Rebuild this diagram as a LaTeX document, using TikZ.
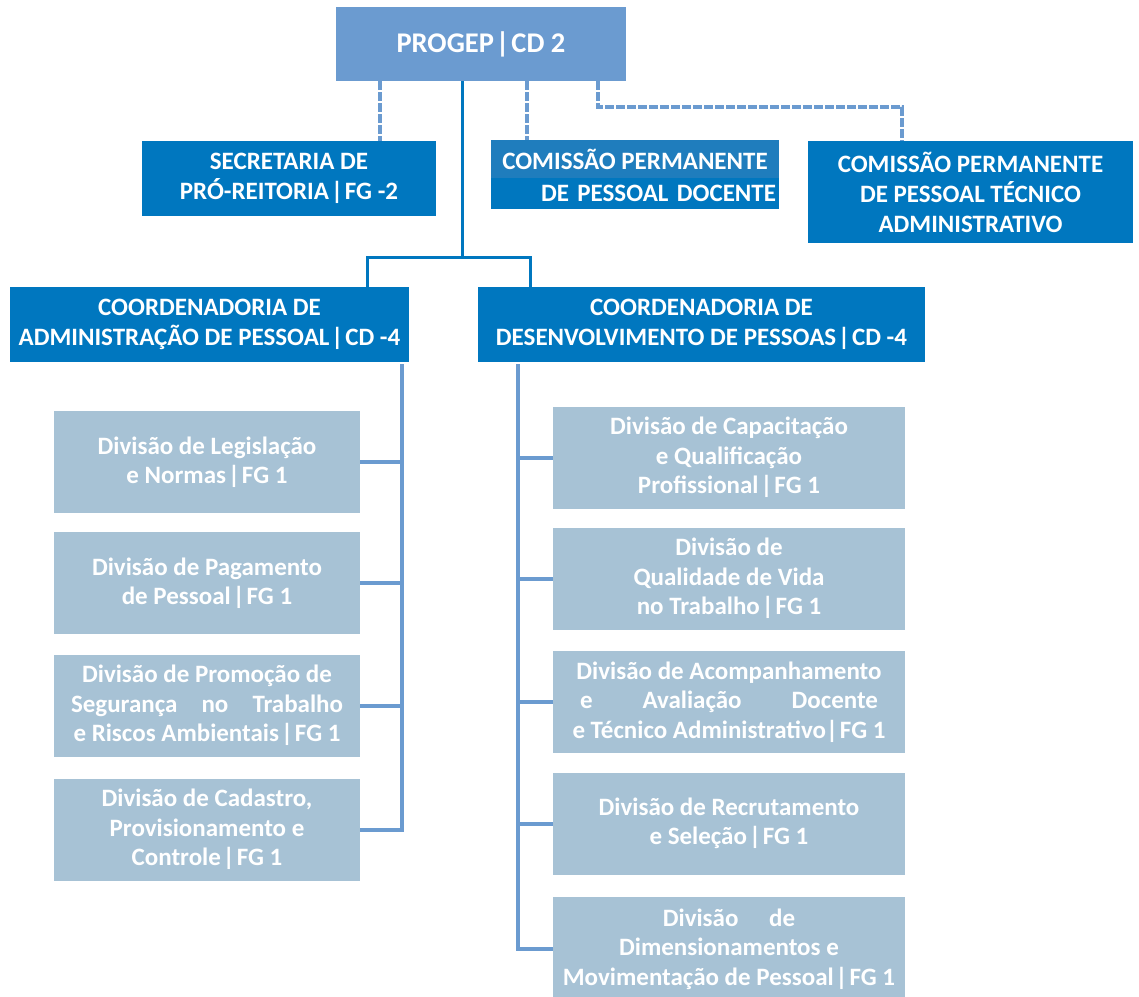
\documentclass[tikz,border=0pt]{standalone}
\usepackage{fontspec}
\setmainfont{Carlito}
\usetikzlibrary{positioning}
\definecolor{progepblue}{HTML}{6B9BD0}
\definecolor{mainblue}{HTML}{0077BF}
\definecolor{docblue}{HTML}{1F7DBD}
\definecolor{divgray}{HTML}{A7C2D5}
\newcommand{\pipesep}{\kern2pt|\kern2pt}
\tikzset{
  org_n/.style = {align=center, inner sep=0pt, text=white},
  box_top/.style = {org_n, fill=progepblue, minimum width=290pt,
    minimum height=74pt, font=\fontsize{28.5}{30}\selectfont\bfseries},
  box_main/.style = {org_n, fill=mainblue,
    font=\fontsize{25}{30}\selectfont\bfseries},
  box_div/.style = {org_n, fill=divgray,
    font=\fontsize{25}{29.5}\selectfont\bfseries},
  link_dash/.style = {draw=progepblue, line width=4pt, dash pattern=on 9pt off 2pt},
  link_main/.style = {draw=mainblue, line width=3pt},
  link_div/.style = {draw=progepblue, line width=4pt}}

\begin{document}
\begin{tikzpicture}[x=1pt, y=-1pt]
\useasboundingbox (0,0) rectangle (1139,996);

% top level
\node [box_top] (progep) at (481,44) {PROGEP\pipesep CD 2};
\node [box_main, minimum width=294pt, minimum height=75pt] (sec) at (289,178.5)
  {SECRETARIA DE\\ PRÓ-REITORIA\pipesep FG -2};
\node [box_main, fill=docblue, minimum width=288pt, minimum height=38pt] (docA) at (635,159)
  {COMISSÃO PERMANENTE};
\node [box_main, minimum width=288pt, minimum height=31pt, align=right, text width=282pt]
  (docB) at (635,193.5) {DE PESSOAL DOCENTE};
\node [box_main, minimum width=325pt, minimum height=102pt] (tec) at (970.5,192)
  {COMISSÃO PERMANENTE\\ DE PESSOAL TÉCNICO\\ ADMINISTRATIVO};

% coordenadorias
\node [box_main, minimum width=399pt, minimum height=75pt] (adm) at (209.5,324.5)
  {COORDENADORIA DE\\ ADMINISTRAÇÃO DE PESSOAL\pipesep CD -4};
\node [box_main, minimum width=447pt, minimum height=75pt] (des) at (701.5,324.5)
  {COORDENADORIA DE\\ DESENVOLVIMENTO DE PESSOAS\pipesep CD -4};

% divisoes (administracao)
\tikzset{div_l/.style = {box_div, minimum width=306pt, minimum height=102pt}}
\node [div_l] (dL1) at (207,462) {Divisão de Legislação\\ e Normas\pipesep FG 1};
\node [div_l] (dL2) at (207,583) {Divisão de Pagamento\\ de Pessoal\pipesep FG 1};
\node [div_l] (dL3) at (207,705.5) {Divisão de Promoção de\\
  \makebox[272pt]{Segurança\hfill no\hfill Trabalho}\\ e Riscos Ambientais\pipesep FG 1};
\node [div_l] (dL4) at (207,829.5) {Divisão de Cadastro,\\ Provisionamento e\\ Controle\pipesep FG 1};

% divisoes (desenvolvimento)
\tikzset{div_r/.style = {box_div, minimum width=352pt, minimum height=102pt}}
\node [div_r] (dR1) at (729,457.5) {Divisão de Capacitação\\ e Qualificação\\ Profissional\pipesep FG 1};
\node [div_r] (dR2) at (729,578.5) {Divisão de\\ Qualidade de Vida\\ no Trabalho\pipesep FG 1};
\node [div_r] (dR3) at (729,702) {Divisão de Acompanhamento\\
  \makebox[298pt]{e\hfill Avaliação\hfill Docente}\\ e Técnico Administrativo|\kern2pt FG 1};
\node [div_r] (dR4) at (729,823.5) {Divisão de Recrutamento\\ e Seleção\pipesep FG 1};
\node [div_r, minimum height=104pt] (dR5) at (729,949) {Divisão\quad\ de\\ Dimensionamentos e\\
  Movimentação de Pessoal\pipesep FG 1};

% dashed links
\coordinate (pS1) at (380,81);
\coordinate (pS2) at (527,81);
\coordinate (pS3) at (598,81);
\coordinate (secT) at (380,141);
\coordinate (docT) at (527,140);
\coordinate (tecT) at (902,141);
\draw [link_dash] (pS1) -- (secT);
\draw [link_dash] (pS2) -- (docT);
\draw [link_dash] (pS3) |- (750,107) -| (tecT);

% solid links
\coordinate (trunk) at (462,81);
\coordinate (fork) at (462,257);
\coordinate (admT) at (367,287);
\coordinate (desT) at (530,287);
\draw [link_main] (trunk) -- (fork);
\draw [link_main] (admT) |- (fork) -| (desT);

% buses
\coordinate (admBus) at (402,364);
\coordinate (desBus) at (518,364);
\draw [link_div] (admBus) |- (dL4.east);
\foreach \n in {dL1,dL2,dL3}
  \draw [link_div] (\n.east) -- (\n.east -| admBus);
\draw [link_div] (desBus) |- (dR5.west);
\foreach \n in {dR1,dR2,dR3,dR4}
  \draw [link_div] (\n.west) -- (\n.west -| desBus);
\end{tikzpicture}
\end{document}
